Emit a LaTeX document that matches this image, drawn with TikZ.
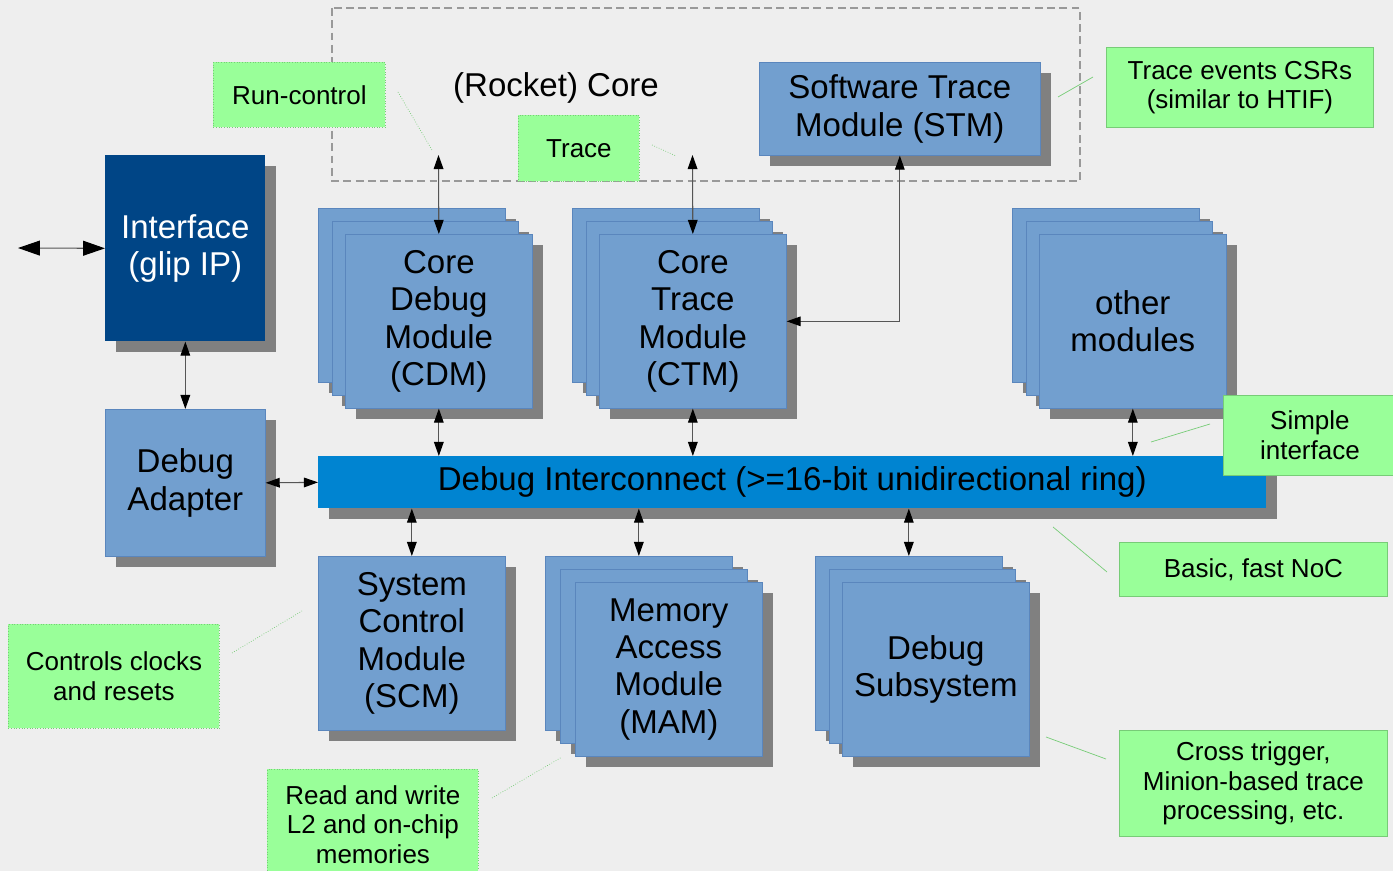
\documentclass[tikz,border=0pt]{standalone}
\usepackage{fontspec}
\setmainfont{Liberation Sans}
\usepackage{xcolor}
\usetikzlibrary{arrows.meta, positioning, shadows}

\definecolor{bggray}{HTML}{EEEEEE}
\definecolor{modblue}{HTML}{729FCF}
\definecolor{modedge}{HTML}{5A86BD}
\definecolor{ifblue}{HTML}{004586}
\definecolor{ringblue}{HTML}{0084D1}
\definecolor{notegreen}{HTML}{99FF99}
\definecolor{noteedge}{HTML}{77CC77}
\definecolor{shadowgray}{HTML}{808080}
\definecolor{linkgray}{HTML}{555555}
\definecolor{coregray}{HTML}{999999}

\begin{document}
\begin{tikzpicture}[
    x=0.02cm, y=-0.02cm,
    big/.style={font=\fontsize{18.8}{21.3}\selectfont},
    small/.style={font=\fontsize{14.8}{16.8}\selectfont},
    box/.style={rectangle, anchor=north west, inner sep=0pt, align=center, big,
      drop shadow={shadow xshift=0.21cm, shadow yshift=-0.21cm, fill=shadowgray, opacity=1}},
    module/.style={box, draw=modedge, line width=0.4pt, fill=modblue, minimum width=3.74cm, minimum height=3.48cm},
    note/.style={rectangle, anchor=north west, inner sep=0pt, align=center, small, fill=notegreen, draw=noteedge, line width=0.5pt},
    notedot/.style={note, densely dotted},
    callout/.style={noteedge, line width=0.4pt},
    arrow/.style={linkgray, line width=0.6pt, {Triangle[length=8pt,width=5.5pt,color=black]}-{Triangle[length=8pt,width=5.5pt,color=black]}},
    bigarrow/.style={linkgray, line width=0.6pt, {Triangle[length=12.5pt,width=8.5pt,color=black]}-{Triangle[length=12.5pt,width=8.5pt,color=black]}}
  ]
  \fill[bggray] (0,0) rectangle (1393,871);
  \useasboundingbox (0,0) rectangle (1393,871);

  % core region
  \draw[coregray, line width=1.4pt, dash pattern=on 4.5pt off 2.5pt] (332,8) rectangle (1080,181);
  \node (rocket) [big] at (556,88) {(Rocket) Core};

  % interface side
  \node (iface) [box, fill=ifblue, text=white, minimum width=3.2cm, minimum height=3.72cm] at (105,155) {Interface\\(glip IP)};
  \node (adapter) [module, minimum width=3.2cm, minimum height=2.94cm] at (105,409) {Debug\\Adapter};
  \node (stm) [module, minimum width=5.62cm, minimum height=1.86cm] at (759,62) {Software Trace\\Module (STM)};

  % stacked modules on top
  \node (cdm1) [module] at (318,208) {};
  \node (cdm2) [module] at (331.5,221) {};
  \node (cdm) [module] at (345,234) {Core\\Debug\\Module\\(CDM)};
  \node (ctm1) [module] at (572,208) {};
  \node (ctm2) [module] at (585.5,221) {};
  \node (ctm) [module] at (599,234) {Core\\Trace\\Module\\(CTM)};
  \node (other1) [module] at (1012,208) {};
  \node (other2) [module] at (1025.5,221) {};
  \node (other) [module] at (1039,234) {other\\modules};

  % the ring
  \node (ring) [box, fill=ringblue, minimum width=18.96cm, minimum height=1.04cm] at (318,456) {Debug Interconnect (>=16-bit unidirectional ring)};

  % modules below
  \node (scm) [module] at (318,556) {System\\Control\\Module\\(SCM)};
  \node (mam1) [module] at (545,556) {};
  \node (mam2) [module] at (560,569) {};
  \node (mam) [module] at (575,582) {Memory\\Access\\Module\\(MAM)};
  \node (dss1) [module] at (815,556) {};
  \node (dss2) [module] at (828.5,569) {};
  \node (dss) [module] at (842,582) {Debug\\Subsystem};

  % notes
  \node (runctl) [notedot, minimum width=3.44cm, minimum height=1.3cm] at (213,62) {Run-control};
  \node (tracenote) [notedot, minimum width=2.42cm, minimum height=1.32cm] at (518,115) {Trace};
  \node (csrs) [note, minimum width=5.34cm, minimum height=1.6cm] at (1106,47) {Trace events CSRs\\(similar to HTIF)};
  \node (simple) [note, minimum width=3.46cm, minimum height=1.6cm] at (1223,395) {Simple\\interface};
  \node (noc) [note, minimum width=5.36cm, minimum height=1.08cm] at (1119,542) {Basic, fast NoC};
  \node (cross) [note, minimum width=5.36cm, minimum height=2.12cm] at (1119,730) {Cross trigger,\\Minion-based trace\\processing, etc.};
  \node (clocks) [notedot, minimum width=4.22cm, minimum height=2.08cm] at (8,624) {Controls clocks\\and resets};
  \node (rw) [notedot, minimum width=4.22cm, minimum height=2.2cm] at (267,769) {Read and write\\L2 and on-chip\\memories};

  % free ends
  \coordinate (ext) at (18,248);
  \coordinate (cdmtap) at (438.5,155);
  \coordinate (ctmtap) at (692.5,155);

  % connections
  \draw [bigarrow] (ext) -- (iface.west);
  \draw [arrow] (iface.south) -- (adapter.north);
  \draw [arrow] (adapter.east) -- (ring.west);
  \draw [arrow] (cdmtap) -- (cdm.north);
  \draw [arrow] (ctmtap) -- (ctm.north);
  \draw [arrow] (stm.south) |- (ctm.east);
  \draw [arrow] (cdm.south) -- (cdm.south |- ring.north);
  \draw [arrow] (ctm.south) -- (ctm.south |- ring.north);
  \draw [arrow] (other.south) -- (other.south |- ring.north);
  \draw [arrow] (scm.north |- ring.south) -- (scm.north);
  \draw [arrow] (mam1.north |- ring.south) -- (mam1.north);
  \draw [arrow] (dss1.north |- ring.south) -- (dss1.north);

  % callout lines
  \draw [callout, densely dotted] (398,92) -- (432,150);
  \draw [callout, densely dotted] (652,145) -- (676,156);
  \draw [callout] (1058,97) -- (1093,77);
  \draw [callout] (1151,442) -- (1210,424);
  \draw [callout] (1053,527) -- (1107,572);
  \draw [callout] (1046,737) -- (1106,759);
  \draw [callout, densely dotted] (232,653) -- (302,611);
  \draw [callout, densely dotted] (492,798) -- (562,757);
\end{tikzpicture}
\end{document}
